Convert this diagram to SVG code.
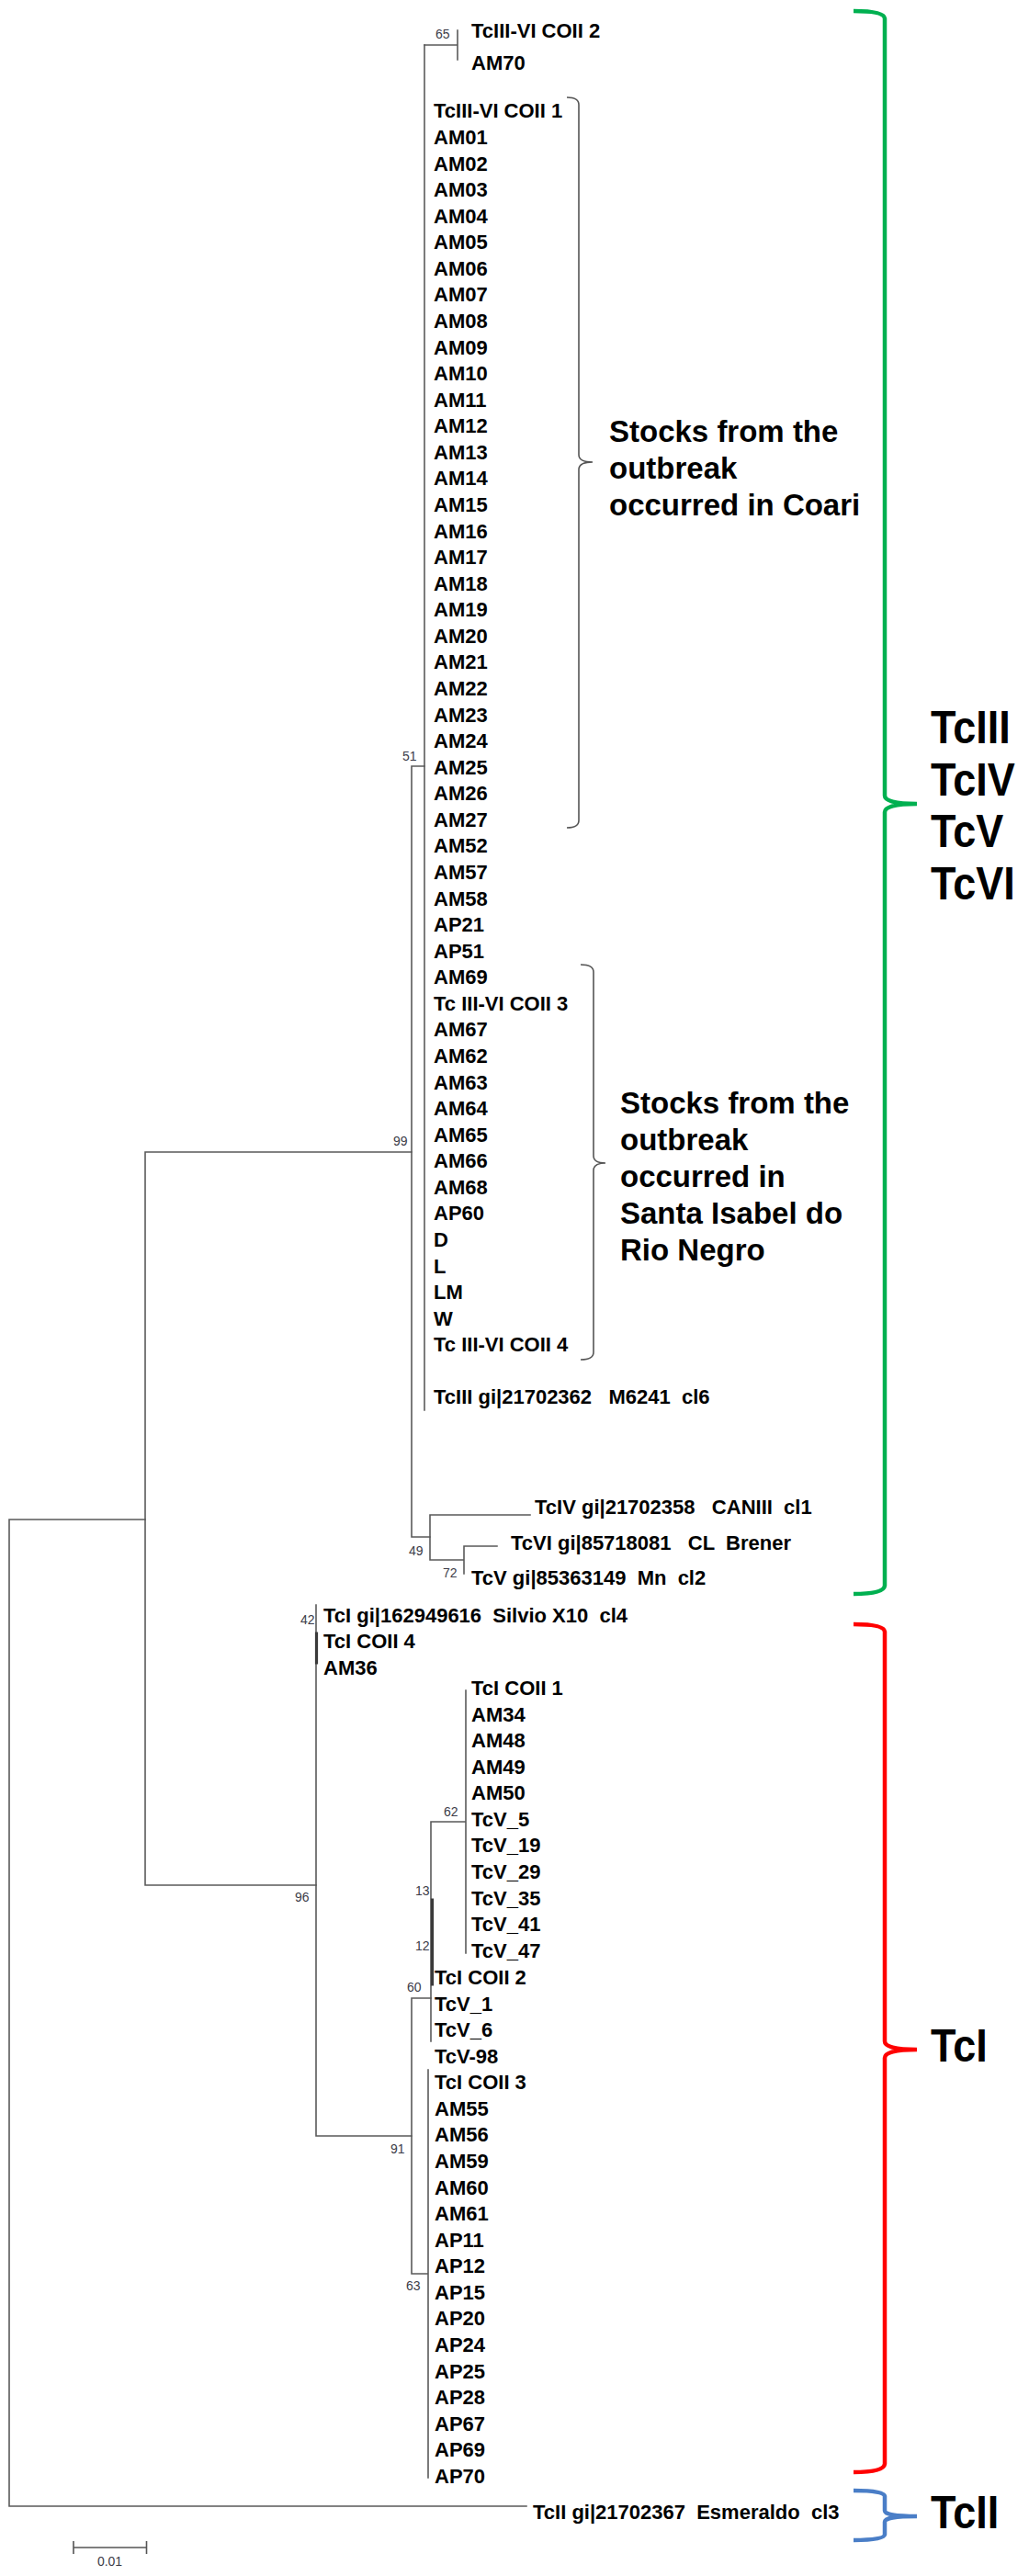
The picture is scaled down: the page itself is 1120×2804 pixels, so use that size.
<svg xmlns="http://www.w3.org/2000/svg" width="1120" height="2804" viewBox="0 0 1120 2804">
<style>
.lf{font-family:"Liberation Sans",Arial,sans-serif;font-weight:bold;font-size:22px;fill:#000;white-space:pre}
.bs{font-family:"Liberation Sans",Arial,sans-serif;font-size:14px;fill:#3c3c48}
.grp{font-family:"Liberation Sans",Arial,sans-serif;font-weight:bold;font-size:33px;fill:#000}
.big{font-family:"Liberation Sans",Arial,sans-serif;font-weight:bold;font-size:45px;fill:#000}
.br{stroke:#555;fill:none;stroke-width:1.6}
.tr{stroke:#5a5a5a;stroke-width:1.6;fill:none;stroke-linecap:square}
.thk{stroke:#3a3a3a;stroke-width:3.2}
</style>
<rect width="1120" height="2804" fill="#fff"/>
<g id="connectors" class="tr">
<path d="M462,49H498M498,33V65"/>
<path d="M462,49V1535"/>
<path d="M448,834H462M448,834V1673M448,1673H468"/>
<path d="M468,1649V1698M468,1649H577M468,1698H505M505,1683V1713M505,1683H541"/>
<path d="M158,1254H448M158,1254V2052M158,2052H344"/>
<path d="M10,1654H158M10,1654V2728M10,2728H573"/>
<path d="M344,1747V2325M344,2325H448"/>
<path d="M448,2175V2475M448,2175H469M448,2475H466M466,2253V2697"/>
<path d="M469,1983V2222M469,1983H507M507,1840V2126"/>
<path class="thk" d="M344.5,1778V1810M470.5,2068V2160"/>
</g>
<g id="bootstrap">
<text class="bs" x="474" y="42">65</text>
<text class="bs" x="438" y="828">51</text>
<text class="bs" x="428" y="1247">99</text>
<text class="bs" x="445" y="1693">49</text>
<text class="bs" x="482" y="1717">72</text>
<text class="bs" x="327" y="1768">42</text>
<text class="bs" x="321" y="2070">96</text>
<text class="bs" x="483" y="1977">62</text>
<text class="bs" x="452" y="2063">13</text>
<text class="bs" x="452" y="2123">12</text>
<text class="bs" x="443" y="2168">60</text>
<text class="bs" x="425" y="2344">91</text>
<text class="bs" x="442" y="2493">63</text>
</g>
<g id="leaves-upper">
<g id="n-coii2"><text class="lf" x="513" y="41">TcIII-VI COII 2</text></g>
<g id="n-am70"><text class="lf" x="513" y="76">AM70</text></g>
<g id="n-coii1"><text class="lf" x="472" y="128">TcIII-VI COII 1</text></g>
<g id="n-am01"><text class="lf" x="472" y="157">AM01</text></g>
<g id="n-am02"><text class="lf" x="472" y="185.6">AM02</text></g>
<g id="n-am03"><text class="lf" x="472" y="214.1">AM03</text></g>
<g id="n-am04"><text class="lf" x="472" y="242.7">AM04</text></g>
<g id="n-am05"><text class="lf" x="472" y="271.3">AM05</text></g>
<g id="n-am06"><text class="lf" x="472" y="299.9">AM06</text></g>
<g id="n-am07"><text class="lf" x="472" y="328.4">AM07</text></g>
<g id="n-am08"><text class="lf" x="472" y="357">AM08</text></g>
<g id="n-am09"><text class="lf" x="472" y="385.6">AM09</text></g>
<g id="n-am10"><text class="lf" x="472" y="414.1">AM10</text></g>
<g id="n-am11"><text class="lf" x="472" y="442.7">AM11</text></g>
<g id="n-am12"><text class="lf" x="472" y="471.3">AM12</text></g>
<g id="n-am13"><text class="lf" x="472" y="499.8">AM13</text></g>
<g id="n-am14"><text class="lf" x="472" y="528.4">AM14</text></g>
<g id="n-am15"><text class="lf" x="472" y="557">AM15</text></g>
<g id="n-am16"><text class="lf" x="472" y="585.6">AM16</text></g>
<g id="n-am17"><text class="lf" x="472" y="614.1">AM17</text></g>
<g id="n-am18"><text class="lf" x="472" y="642.7">AM18</text></g>
<g id="n-am19"><text class="lf" x="472" y="671.3">AM19</text></g>
<g id="n-am20"><text class="lf" x="472" y="699.8">AM20</text></g>
<g id="n-am21"><text class="lf" x="472" y="728.4">AM21</text></g>
<g id="n-am22"><text class="lf" x="472" y="757">AM22</text></g>
<g id="n-am23"><text class="lf" x="472" y="785.5">AM23</text></g>
<g id="n-am24"><text class="lf" x="472" y="814.1">AM24</text></g>
<g id="n-am25"><text class="lf" x="472" y="842.7">AM25</text></g>
<g id="n-am26"><text class="lf" x="472" y="871.3">AM26</text></g>
<g id="n-am27"><text class="lf" x="472" y="899.8">AM27</text></g>
<g id="n-am52"><text class="lf" x="472" y="928.4">AM52</text></g>
<g id="n-am57"><text class="lf" x="472" y="957">AM57</text></g>
<g id="n-am58"><text class="lf" x="472" y="985.5">AM58</text></g>
<g id="n-ap21"><text class="lf" x="472" y="1014.1">AP21</text></g>
<g id="n-ap51"><text class="lf" x="472" y="1042.7">AP51</text></g>
<g id="n-am69"><text class="lf" x="472" y="1071.2">AM69</text></g>
<g id="n-coii3"><text class="lf" x="472" y="1099.8">Tc III-VI COII 3</text></g>
<g id="n-am67"><text class="lf" x="472" y="1128.4">AM67</text></g>
<g id="n-am62"><text class="lf" x="472" y="1157">AM62</text></g>
<g id="n-am63"><text class="lf" x="472" y="1185.5">AM63</text></g>
<g id="n-am64"><text class="lf" x="472" y="1214.1">AM64</text></g>
<g id="n-am65"><text class="lf" x="472" y="1242.7">AM65</text></g>
<g id="n-am66"><text class="lf" x="472" y="1271.2">AM66</text></g>
<g id="n-am68"><text class="lf" x="472" y="1299.8">AM68</text></g>
<g id="n-ap60"><text class="lf" x="472" y="1328.4">AP60</text></g>
<g id="n-d"><text class="lf" x="472" y="1356.9">D</text></g>
<g id="n-l"><text class="lf" x="472" y="1385.5">L</text></g>
<g id="n-lm"><text class="lf" x="472" y="1414.1">LM</text></g>
<g id="n-w"><text class="lf" x="472" y="1442.7">W</text></g>
<g id="n-coii4"><text class="lf" x="472" y="1471.2">Tc III-VI COII 4</text></g>
<g id="n-tciii"><text class="lf" x="472" y="1528">TcIII gi|21702362   M6241  cl6</text></g>
<g id="n-tciv"><text class="lf" x="582" y="1648">TcIV gi|21702358   CANIII  cl1</text></g>
<g id="n-tcvi"><text class="lf" x="556" y="1687">TcVI gi|85718081   CL  Brener</text></g>
<g id="n-tcv"><text class="lf" x="513" y="1725">TcV gi|85363149  Mn  cl2</text></g>
</g>
<g id="leaves-lower">
<g id="n-tci"><text class="lf" x="352" y="1766">TcI gi|162949616  Silvio X10  cl4</text></g>
<g id="n-tcicoii4"><text class="lf" x="352" y="1794">TcI COII 4</text></g>
<g id="n-am36"><text class="lf" x="352" y="1822.7">AM36</text></g>
<g id="n-tcicoii1"><text class="lf" x="513" y="1845">TcI COII 1</text></g>
<g id="n-am34"><text class="lf" x="513" y="1873.6">AM34</text></g>
<g id="n-am48"><text class="lf" x="513" y="1902.1">AM48</text></g>
<g id="n-am49"><text class="lf" x="513" y="1930.7">AM49</text></g>
<g id="n-am50"><text class="lf" x="513" y="1959.3">AM50</text></g>
<g id="n-tcv5"><text class="lf" x="513" y="1987.9">TcV_5</text></g>
<g id="n-tcv19"><text class="lf" x="513" y="2016.4">TcV_19</text></g>
<g id="n-tcv29"><text class="lf" x="513" y="2045">TcV_29</text></g>
<g id="n-tcv35"><text class="lf" x="513" y="2073.6">TcV_35</text></g>
<g id="n-tcv41"><text class="lf" x="513" y="2102.1">TcV_41</text></g>
<g id="n-tcv47"><text class="lf" x="513" y="2130.7">TcV_47</text></g>
<g id="n-tcicoii2"><text class="lf" x="473" y="2160">TcI COII 2</text></g>
<g id="n-tcv1"><text class="lf" x="473" y="2188.5">TcV_1</text></g>
<g id="n-tcv6"><text class="lf" x="473" y="2217">TcV_6</text></g>
<g id="n-tcv98"><text class="lf" x="473" y="2245.7">TcV-98</text></g>
<g id="n-tcicoii3"><text class="lf" x="473" y="2274.2">TcI COII 3</text></g>
<g id="n-am55"><text class="lf" x="473" y="2302.8">AM55</text></g>
<g id="n-am56"><text class="lf" x="473" y="2331.4">AM56</text></g>
<g id="n-am59"><text class="lf" x="473" y="2360">AM59</text></g>
<g id="n-am60"><text class="lf" x="473" y="2388.5">AM60</text></g>
<g id="n-am61"><text class="lf" x="473" y="2417.1">AM61</text></g>
<g id="n-ap11"><text class="lf" x="473" y="2445.7">AP11</text></g>
<g id="n-ap12"><text class="lf" x="473" y="2474.3">AP12</text></g>
<g id="n-ap15"><text class="lf" x="473" y="2502.8">AP15</text></g>
<g id="n-ap20"><text class="lf" x="473" y="2531.4">AP20</text></g>
<g id="n-ap24"><text class="lf" x="473" y="2560">AP24</text></g>
<g id="n-ap25"><text class="lf" x="473" y="2588.5">AP25</text></g>
<g id="n-ap28"><text class="lf" x="473" y="2617.1">AP28</text></g>
<g id="n-ap67"><text class="lf" x="473" y="2645.7">AP67</text></g>
<g id="n-ap69"><text class="lf" x="473" y="2674.3">AP69</text></g>
<g id="n-ap70"><text class="lf" x="473" y="2702.8">AP70</text></g>
<g id="n-tcii"><text class="lf" x="580" y="2742">TcII gi|21702367  Esmeraldo  cl3</text></g>
</g>
<g id="group-coari">
<path class="br" d="M617,106Q630,106 630,114L630,495Q630,503 645,503Q630,503 630,511L630,893Q630,901 617,901"/>
<text class="grp" x="663" y="481">Stocks from the</text>
<text class="grp" x="663" y="521">outbreak</text>
<text class="grp" x="663" y="561">occurred in Coari</text>
</g>
<g id="group-santa-isabel">
<path class="br" d="M632,1050Q646,1050 646,1058L646,1258Q646,1266 659,1266Q646,1266 646,1274L646,1472Q646,1480 632,1480"/>
<text class="grp" x="675" y="1212">Stocks from the</text>
<text class="grp" x="675" y="1252">outbreak</text>
<text class="grp" x="675" y="1292">occurred in</text>
<text class="grp" x="675" y="1332">Santa Isabel do</text>
<text class="grp" x="675" y="1372">Rio Negro</text>
</g>
<g id="clade-tciii-vi">
<path d="M929,12Q962,12 963,20L963,866Q963,875 998,875Q963,875 963,884L963,1726Q962,1735 929,1735" fill="none" stroke="#00B050" stroke-width="4.5"/>
<text class="big" transform="translate(1013,809) scale(1,1.12)">TcIII</text>
<text class="big" transform="translate(1013,866) scale(1,1.12)">TcIV</text>
<text class="big" transform="translate(1013,922) scale(1,1.12)">TcV</text>
<text class="big" transform="translate(1013,979) scale(1,1.12)">TcVI</text>
</g>
<g id="clade-tci">
<path d="M929,1768Q962,1768 963,1776L963,2222Q963,2231 998,2231Q963,2231 963,2240L963,2682Q962,2691 929,2691" fill="none" stroke="#FF0000" stroke-width="4.5"/>
<text class="big" transform="translate(1013,2244) scale(1,1.12)">TcI</text>
</g>
<g id="clade-tcii">
<path d="M929,2711Q962,2711 963,2717L963,2733Q963,2739 998,2739Q963,2739 963,2745L963,2759Q962,2765 929,2765" fill="none" stroke="#4A7EC7" stroke-width="4.5"/>
<text class="big" transform="translate(1013,2752) scale(1,1.12)">TcII</text>
</g>
<g id="scale-bar">
<path d="M80,2773H159.5M80,2766V2780M159.5,2766V2780" stroke="#555" stroke-width="1.6" fill="none"/>
<text class="bs" x="119.5" y="2793" text-anchor="middle" font-size="13">0.01</text>
</g>
</svg>
